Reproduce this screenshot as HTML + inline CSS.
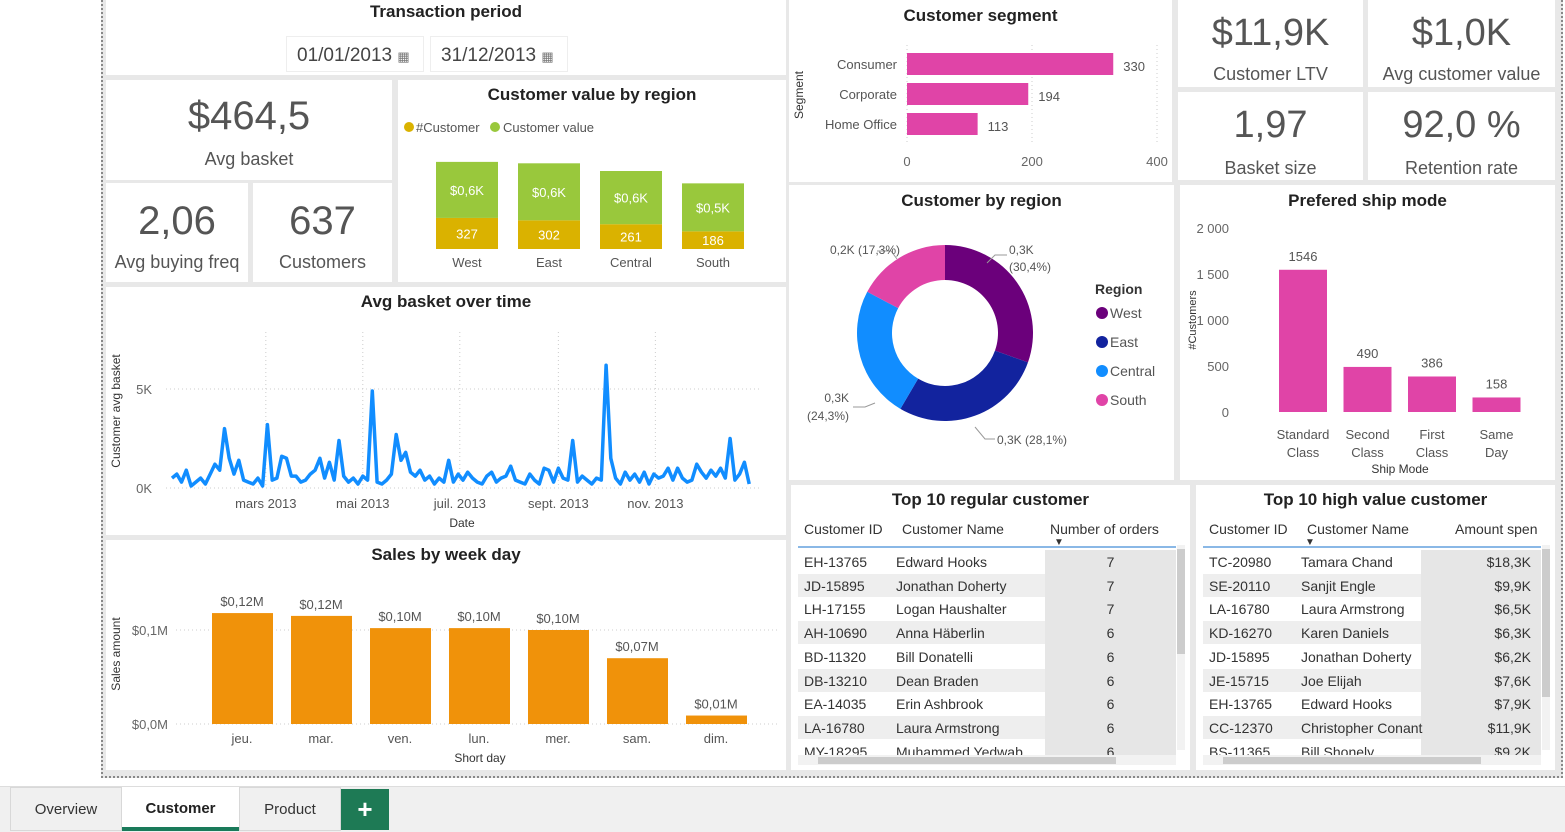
<!DOCTYPE html>
<html><head><meta charset="utf-8">
<style>
*{box-sizing:border-box;margin:0;padding:0}
body{width:1565px;height:832px;position:relative;background:#fff;font-family:"Liberation Sans",sans-serif;color:#333;overflow:hidden}
.t{position:absolute;background:#fff}
.ttl{position:absolute;left:0;right:0;text-align:center;font-weight:bold;font-size:17px;color:#222}
.kv{position:absolute;left:0;right:0;text-align:center;color:#555;font-size:40px}
.kl{position:absolute;left:0;right:0;text-align:center;color:#555;font-size:18px}
svg text{font-family:"Liberation Sans",sans-serif}
.tb div{white-space:nowrap}
</style></head><body>
<div style="position:absolute;left:101px;top:0;width:1462px;height:778px;background:#e8e8e8;border-left:2px dotted #888;border-right:2px dotted #888;border-bottom:2px dotted #888"></div>

<div class="t" style="left:106px;top:0;width:680px;height:75px">
 <div class="ttl" style="top:2px">Transaction period</div>
 <div style="position:absolute;left:180px;top:36px;width:138px;height:36px;border:1px solid #eee;font-size:19px;color:#444;padding:8px 10px">01/01/2013 <span style="font-size:13px;color:#777">▦</span></div>
 <div style="position:absolute;left:324px;top:36px;width:138px;height:36px;border:1px solid #eee;font-size:19px;color:#444;padding:8px 10px">31/12/2013 <span style="font-size:13px;color:#777">▦</span></div>
</div>

<div class="t" style="left:106px;top:80px;width:286px;height:100px">
 <div class="kv" style="top:14px">$464,5</div><div class="kl" style="top:69px">Avg basket</div></div>
<div class="t" style="left:106px;top:183px;width:142px;height:99px">
 <div class="kv" style="top:16px">2,06</div><div class="kl" style="top:69px">Avg buying freq</div></div>
<div class="t" style="left:253px;top:183px;width:139px;height:99px">
 <div class="kv" style="top:16px">637</div><div class="kl" style="top:69px">Customers</div></div>

<div class="t" style="left:398px;top:80px;width:388px;height:202px">
 <div class="ttl" style="top:5px">Customer value by region</div>
 <svg id="cvr" width="388" height="202" style="position:absolute;left:0;top:0"></svg>
</div>

<div class="t" style="left:106px;top:287px;width:680px;height:248px">
 <div class="ttl" style="top:5px">Avg basket over time</div>
 <svg id="line" width="680" height="248" style="position:absolute;left:0;top:0"></svg>
</div>

<div class="t" style="left:106px;top:540px;width:680px;height:230px">
 <div class="ttl" style="top:5px">Sales by week day</div>
 <svg id="week" width="680" height="230" style="position:absolute;left:0;top:0"></svg>
</div>

<div class="t" style="left:789px;top:0;width:383px;height:182px">
 <div class="ttl" style="top:6px">Customer segment</div>
 <svg id="seg" width="383" height="182" style="position:absolute;left:0;top:0"></svg>
</div>

<div class="t" style="left:1178px;top:0;width:185px;height:87px"><div class="kv" style="top:12px;font-size:38px">$11,9K</div><div class="kl" style="top:64px">Customer LTV</div></div>
<div class="t" style="left:1368px;top:0;width:187px;height:87px"><div class="kv" style="top:12px;font-size:38px">$1,0K</div><div class="kl" style="top:64px">Avg customer value</div></div>
<div class="t" style="left:1178px;top:92px;width:185px;height:88px"><div class="kv" style="top:12px;font-size:38px">1,97</div><div class="kl" style="top:66px">Basket size</div></div>
<div class="t" style="left:1368px;top:92px;width:187px;height:88px"><div class="kv" style="top:12px;font-size:38px">92,0 %</div><div class="kl" style="top:66px">Retention rate</div></div>

<div class="t" style="left:789px;top:185px;width:385px;height:295px">
 <div class="ttl" style="top:6px">Customer by region</div>
 <svg id="donut" width="385" height="295" style="position:absolute;left:0;top:0"></svg>
</div>

<div class="t" style="left:1180px;top:185px;width:375px;height:295px">
 <div class="ttl" style="top:6px">Prefered ship mode</div>
 <svg id="ship" width="375" height="295" style="position:absolute;left:0;top:0"></svg>
</div>

<div class="t tb" style="left:791px;top:485px;width:399px;height:285px;overflow:hidden">
 <div class="ttl" style="top:5px">Top 10 regular customer</div>
 <div id="tbl1"></div>
</div>
<div class="t tb" style="left:1196px;top:485px;width:359px;height:285px;overflow:hidden">
 <div class="ttl" style="top:5px">Top 10 high value customer</div>
 <div id="tbl2"></div>
</div>

<div style="position:absolute;left:0;top:786px;width:1565px;height:46px;background:#f0f0f0;border-top:1px solid #ddd">
 <div style="position:absolute;left:10px;top:0;width:112px;height:44px;border:1px solid #d8d8d8;background:#f0f0f0;text-align:center;line-height:44px;font-size:15px;color:#333">Overview</div>
 <div style="position:absolute;left:122px;top:0;width:117px;height:44px;background:#fff;border-bottom:4px solid #1a7a5a;text-align:center;line-height:44px;font-size:15px;font-weight:bold;color:#222">Customer</div>
 <div style="position:absolute;left:239px;top:0;width:102px;height:44px;border:1px solid #d8d8d8;text-align:center;line-height:44px;font-size:15px;color:#333">Product</div>
 <div style="position:absolute;left:341px;top:2px;width:48px;height:41px;background:#1e7a55;color:#fff;text-align:center;line-height:40px;font-size:26px;font-weight:bold">+</div>
</div>

<script>
const NS="http://www.w3.org/2000/svg";
function mk(p,tag,attrs,txt){const e=document.createElementNS(NS,tag);for(const k in attrs)e.setAttribute(k,attrs[k]);if(txt!==undefined)e.textContent=txt;p.appendChild(e);return e;}

// ---- Customer value by region ----
const regionCats=["West","East","Central","South"];
const regionCustomers=[327,302,261,186];
const regionValues=[590,600,560,505];
const regionValueLabels=["$0,6K","$0,6K","$0,6K","$0,5K"];
{
 const s=document.getElementById('cvr');
 const base=169, k=0.095, x0=38, step=82, w=62;
 let g=mk(s,'g',{});
 
 
 mk(g,'circle',{cx:11,cy:47,r:5,fill:'#dab200'});
 mk(g,'text',{x:18,y:52,'font-size':13,fill:'#555'},'#Customer');
 mk(g,'circle',{cx:97,cy:47,r:5,fill:'#99c83c'});
 mk(g,'text',{x:105,y:52,'font-size':13,fill:'#555'},'Customer value');
 regionCats.forEach((c,i)=>{
  const x=x0+i*step, hc=regionCustomers[i]*k, hv=regionValues[i]*k;
  const r1=mk(s,'rect',{x:x,y:base-hc,width:w,height:hc,fill:'#dab200'});
  
  
  const r2=mk(s,'rect',{x:x,y:base-hc-hv,width:w,height:hv,fill:'#99c83c'});
  
  
  mk(s,'text',{x:x+w/2,y:base-hc/2+5,'font-size':13,fill:'#fff','text-anchor':'middle'},regionCustomers[i]);
  mk(s,'text',{x:x+w/2,y:base-hc-hv/2+5,'font-size':13,fill:'#fff','text-anchor':'middle'},regionValueLabels[i]);
  mk(s,'text',{x:x+w/2,y:187,'font-size':13,fill:'#555','text-anchor':'middle'},c);
 });
}

// ---- Avg basket over time (3-day buckets, K) ----
const basketValues=[0.5,0.7,0.3,0.9,0.1,0.3,0.5,0.2,0.7,1.2,0.9,3.0,1.5,0.7,1.4,0.4,0.3,0.2,0.5,0.1,3.2,0.4,0.5,1.6,1.5,0.6,0.6,0.3,0.4,0.7,0.9,1.5,0.5,1.3,0.4,2.4,0.6,0.3,0.5,0.2,0.6,0.4,4.9,0.3,0.2,0.4,0.7,2.7,1.4,1.8,0.8,0.6,0.9,0.4,0.6,0.2,0.5,0.3,1.4,0.3,0.7,0.4,0.8,0.5,0.3,0.2,0.6,0.8,0.3,0.5,0.6,1.1,0.4,0.3,0.2,0.7,0.4,0.2,1.0,0.9,0.3,1.0,0.5,0.4,2.4,0.3,0.6,0.4,0.2,0.5,0.4,6.2,1.5,0.5,0.2,0.8,0.4,0.7,0.3,0.8,0.2,0.7,0.5,0.6,1.0,0.4,1.0,0.5,0.3,0.4,1.2,0.8,0.5,0.9,0.6,1.0,0.5,2.5,0.4,0.7,1.3,0.2];
const monthTicks=["mars 2013","mai 2013","juil. 2013","sept. 2013","nov. 2013"];
const monthTickDays=[59,120,181,243,304];
const yTicksK=[0,5];
{
 const s=document.getElementById('line');
 const X=d=>66+d*1.59, Y=v=>201-v*19.8;
 yTicksK.forEach(t=>{mk(s,'line',{x1:60,x2:655,y1:Y(t),y2:Y(t),stroke:'#ccc','stroke-dasharray':'1,3'});
  mk(s,'text',{x:46,y:Y(t)+5,'font-size':13,fill:'#666','text-anchor':'end'},t+'K');});
 monthTicks.forEach((m,i)=>{const x=X(monthTickDays[i]);
  mk(s,'line',{x1:x,x2:x,y1:45,y2:201,stroke:'#ccc','stroke-dasharray':'1,3'});
  mk(s,'text',{x:x,y:221,'font-size':13,fill:'#555','text-anchor':'middle'},m);});
 mk(s,'text',{x:356,y:240,'font-size':12,fill:'#333','text-anchor':'middle'},'Date');
 mk(s,'text',{x:0,y:0,'font-size':12,fill:'#333','text-anchor':'middle',transform:'translate(14,124) rotate(-90)'},'Customer avg basket');
 const pts=basketValues.map((v,i)=>X(i*3).toFixed(1)+','+Y(v).toFixed(1)).join(' ');
 const pl=mk(s,'polyline',{points:pts,fill:'none',stroke:'#118dff','stroke-width':3.5,'stroke-linejoin':'round'});
 
 
}

// ---- Sales by week day ----
const dayCats=["jeu.","mar.","ven.","lun.","mer.","sam.","dim."];
const daySales=[0.118,0.115,0.102,0.102,0.100,0.070,0.009];
const daySalesLabels=["$0,12M","$0,12M","$0,10M","$0,10M","$0,10M","$0,07M","$0,01M"];
const weekYTicks=[0,0.1];
const weekYLabels=["$0,0M","$0,1M"];
{
 const s=document.getElementById('week');
 const Y=v=>184-v*940;
 weekYTicks.forEach((t,i)=>{mk(s,'line',{x1:70,x2:672,y1:Y(t),y2:Y(t),stroke:'#ccc','stroke-dasharray':'1,3'});
  mk(s,'text',{x:62,y:Y(t)+5,'font-size':13,fill:'#666','text-anchor':'end'},weekYLabels[i]);});
 dayCats.forEach((c,i)=>{const x=106+i*79, v=daySales[i];
  const r=mk(s,'rect',{x:x,y:Y(v),width:61,height:184-Y(v),fill:'#f0920a'});
  
  
  mk(s,'text',{x:x+30,y:Y(v)-7,'font-size':13,fill:'#555','text-anchor':'middle'},daySalesLabels[i]);
  mk(s,'text',{x:x+30,y:203,'font-size':13,fill:'#555','text-anchor':'middle'},c);});
 mk(s,'text',{x:374,y:222,'font-size':12,fill:'#333','text-anchor':'middle'},'Short day');
 mk(s,'text',{x:0,y:0,'font-size':12,fill:'#333','text-anchor':'middle',transform:'translate(14,114) rotate(-90)'},'Sales amount');
}

// ---- Customer segment ----
const segCats=["Consumer","Corporate","Home Office"];
const segValues=[330,194,113];
const segTicks=[0,200,400];
{
 const s=document.getElementById('seg');
 const X=v=>118+v*0.625;
 segTicks.forEach(t=>{mk(s,'line',{x1:X(t),x2:X(t),y1:45,y2:145,stroke:'#ccc','stroke-dasharray':'1,3'});
  mk(s,'text',{x:X(t),y:166,'font-size':13,fill:'#666','text-anchor':'middle'},t);});
 segCats.forEach((c,i)=>{const y=53+i*30;
  const r=mk(s,'rect',{x:X(0),y:y,width:X(segValues[i])-X(0),height:22,fill:'#e044a7'});
  
  
  mk(s,'text',{x:108,y:y+16,'font-size':13,fill:'#555','text-anchor':'end'},c);
  mk(s,'text',{x:X(segValues[i])+10,y:y+18,'font-size':13,fill:'#555'},segValues[i]);});
 mk(s,'text',{x:0,y:0,'font-size':12,fill:'#333','text-anchor':'middle',transform:'translate(14,95) rotate(-90)'},'Segment');
}

// ---- Customer by region donut ----
const donutCats=["West","East","Central","South"];
const donutValues=[194,179,155,110];
const donutColors=["#6b007b","#12239e","#118dff","#e044a7"];
const donutLabels=["0,3K","0,3K (28,1%)","0,3K","0,2K (17,3%)"];
{
 const s=document.getElementById('donut');
 const cx=156,cy=148,R=88,r=53;
 const tot=donutValues.reduce((a,b)=>a+b,0);
 let a=0;
 donutValues.forEach((v,i)=>{
  const a0=a, a1=a+v/tot*2*Math.PI; a=a1;
  const p=(ang,rad)=>[cx+rad*Math.sin(ang),cy-rad*Math.cos(ang)];
  const large=(a1-a0)>Math.PI?1:0;
  const [x1,y1]=p(a0,R),[x2,y2]=p(a1,R),[x3,y3]=p(a1,r),[x4,y4]=p(a0,r);
  const path=mk(s,'path',{d:`M${x1},${y1} A${R},${R} 0 ${large} 1 ${x2},${y2} L${x3},${y3} A${r},${r} 0 ${large} 0 ${x4},${y4}Z`,fill:donutColors[i]});
  
  
 });
 mk(s,'polyline',{points:'198,78 206,70 218,70',fill:'none',stroke:'#999'});
 mk(s,'text',{x:220,y:69,'font-size':12,fill:'#555'},'0,3K');
 mk(s,'text',{x:220,y:86,'font-size':12,fill:'#555'},'(30,4%)');
 mk(s,'polyline',{points:'186,242 196,254 206,254',fill:'none',stroke:'#999'});
 mk(s,'text',{x:208,y:259,'font-size':12,fill:'#555'},donutLabels[1]);
 mk(s,'polyline',{points:'86,218 76,222 64,222',fill:'none',stroke:'#999'});
 mk(s,'text',{x:60,y:217,'font-size':12,fill:'#555','text-anchor':'end'},'0,3K');
 mk(s,'text',{x:60,y:235,'font-size':12,fill:'#555','text-anchor':'end'},'(24,3%)');
 mk(s,'polyline',{points:'108,74 102,66 88,66',fill:'none',stroke:'#999'});
 mk(s,'text',{x:111,y:69,'font-size':12,fill:'#555','text-anchor':'end'},donutLabels[3]);
 mk(s,'text',{x:306,y:109,'font-size':14,fill:'#333','font-weight':'bold'},'Region');
 donutCats.forEach((c,i)=>{const y=128+i*29;
  mk(s,'circle',{cx:313,cy:y,r:6,fill:donutColors[i]});
  mk(s,'text',{x:321,y:y+5,'font-size':14,fill:'#555'},c);});
}

// ---- Prefered ship mode ----
const shipCats=[["Standard","Class"],["Second","Class"],["First","Class"],["Same","Day"]];
const shipValues=[1546,490,386,158];
const shipTicks=[0,500,1000,1500,2000];
const shipTickLabels=["0","500","1 000","1 500","2 000"];
{
 const s=document.getElementById('ship');
 const Y=v=>227-v*0.092;
 shipTicks.forEach((t,i)=>mk(s,'text',{x:49,y:Y(t)+5,'font-size':13,fill:'#666','text-anchor':'end'},shipTickLabels[i]));
 shipCats.forEach((c,i)=>{const x=99+i*64.5;
  const r=mk(s,'rect',{x:x,y:Y(shipValues[i]),width:48,height:227-Y(shipValues[i]),fill:'#e044a7'});
  
  
  mk(s,'text',{x:x+24,y:Y(shipValues[i])-9,'font-size':13,fill:'#555','text-anchor':'middle'},shipValues[i]);
  mk(s,'text',{x:x+24,y:254,'font-size':13,fill:'#555','text-anchor':'middle'},c[0]);
  mk(s,'text',{x:x+24,y:272,'font-size':13,fill:'#555','text-anchor':'middle'},c[1]);});
 mk(s,'text',{x:220,y:288,'font-size':12,fill:'#333','text-anchor':'middle'},'Ship Mode');
 mk(s,'text',{x:0,y:0,'font-size':11,fill:'#333','text-anchor':'middle',transform:'translate(16,135) rotate(-90)'},'#Customers');
}

// ---- Tables ----
const t1=[["EH-13765","Edward Hooks","7"],["JD-15895","Jonathan Doherty","7"],["LH-17155","Logan Haushalter","7"],["AH-10690","Anna Häberlin","6"],["BD-11320","Bill Donatelli","6"],["DB-13210","Dean Braden","6"],["EA-14035","Erin Ashbrook","6"],["LA-16780","Laura Armstrong","6"],["MY-18295","Muhammed Yedwab","6"]];
const t2=[["TC-20980","Tamara Chand","$18,3K"],["SE-20110","Sanjit Engle","$9,9K"],["LA-16780","Laura Armstrong","$6,5K"],["KD-16270","Karen Daniels","$6,3K"],["JD-15895","Jonathan Doherty","$6,2K"],["JE-15715","Joe Elijah","$7,6K"],["EH-13765","Edward Hooks","$7,9K"],["CC-12370","Christopher Conant","$11,9K"],["BS-11365","Bill Shonely","$9,2K"]];
function buildTable(id,rows,h3,w3,tw,c1,c2,align){
 const host=document.getElementById(id);
 let html=`<div style="position:absolute;left:7px;top:36px;font-size:14px;color:#333">`;
 html+=`<div style="position:absolute;left:6px;top:0">Customer ID</div><div style="position:absolute;left:${c1}px;top:0">Customer Name</div><div style="position:absolute;left:${c2}px;top:0">${h3}</div>`;
 html+=`<div style="position:absolute;left:${id==='tbl1'?256:102}px;top:16px;font-size:10px">▼</div>`;
 html+=`<div style="position:absolute;left:0;top:25px;width:${tw}px;height:2px;background:#8ab8e6"></div>`;
 html+=`<div style="position:absolute;left:0;top:27px;width:${tw}px;height:207px;overflow:hidden">`;
 rows.forEach((r,i)=>{const y=2+i*23.7;const bg=i%2?'#eeeeee':'#fff';
  html+=`<div style="position:absolute;left:0;top:${y}px;width:${tw}px;height:23px;background:${bg}"></div>`;
  html+=`<div style="position:absolute;left:${tw-w3}px;top:${y}px;width:${w3}px;height:24px;background:#e6e6e6"></div>`;
  html+=`<div style="position:absolute;left:6px;top:${y+4}px">${r[0]}</div><div style="position:absolute;left:${c1-6}px;top:${y+4}px">${r[1]}</div><div style="position:absolute;left:${tw-w3}px;width:${w3-(align?10:0)}px;text-align:${align?'right':'center'};top:${y+4}px">${r[2]}</div>`;});
 html+=`</div></div>`;
 html+=`<div style="position:absolute;left:7px;top:270px;width:${tw}px;height:10px;background:#f2f2f2"><div style="position:absolute;left:20px;top:2px;width:${tw-80}px;height:7px;background:#ccc"></div></div>`;
 html+=`<div style="position:absolute;left:${tw+8}px;top:60px;width:8px;height:205px;background:#f2f2f2"><div style="position:absolute;left:0;top:4px;width:8px;height:${id==='tbl1'?105:148}px;background:#ccc"></div></div>`;
 host.innerHTML=html;
}
buildTable('tbl1',t1,'Number of orders',131,378,104,252,false);
buildTable('tbl2',t2,'Amount spen',120,338,104,252,true);
</script>
</body></html>
